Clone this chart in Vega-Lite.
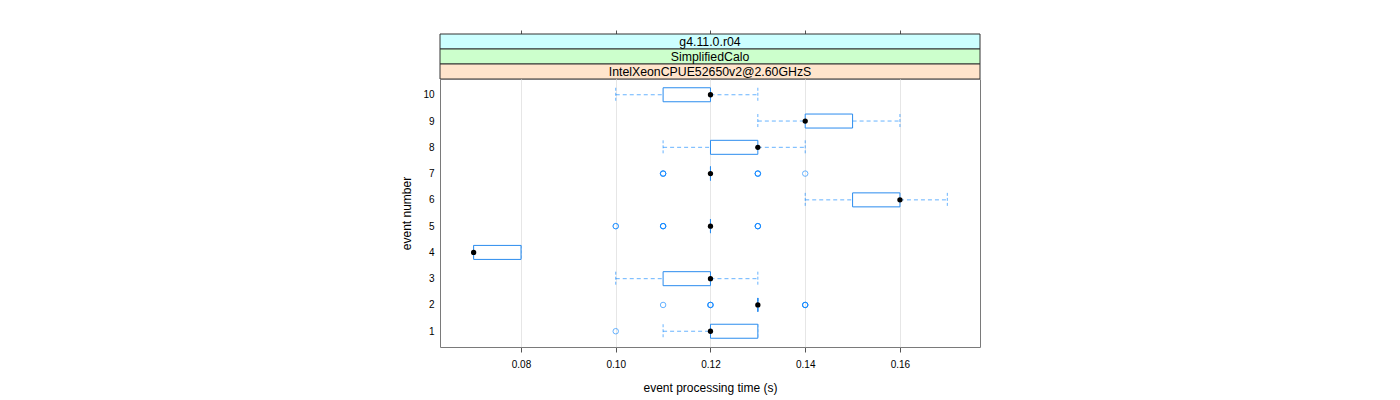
{
  "$schema": "https://vega.github.io/schema/vega-lite/v6.json",
  "padding": {"left": 400, "top": 29, "right": 5, "bottom": 5},
  "background": "white",
  "spacing": 0,
  "bounds": "flush",
  "config": {
    "font": "Liberation Sans",
    "view": {"stroke": null},
    "axis": {"labelColor": "black", "titleColor": "black", "titleFontWeight": "normal", "labelFont": "Liberation Sans", "titleFont": "Liberation Sans", "labelOverlap": false},
    "axisY": {"labelOverlap": false},
    "axisQuantitative": {"labelOverlap": false}
  },
  "datasets": {
    "boxes": [
      {"event": 1, "lo": 0.11, "q1": 0.12, "med": 0.12, "q3": 0.13, "hi": 0.13},
      {"event": 2, "lo": 0.13, "q1": 0.13, "med": 0.13, "q3": 0.13, "hi": 0.13},
      {"event": 3, "lo": 0.10, "q1": 0.11, "med": 0.12, "q3": 0.12, "hi": 0.13},
      {"event": 4, "lo": 0.07, "q1": 0.07, "med": 0.07, "q3": 0.08, "hi": 0.08},
      {"event": 5, "lo": 0.12, "q1": 0.12, "med": 0.12, "q3": 0.12, "hi": 0.12},
      {"event": 6, "lo": 0.14, "q1": 0.15, "med": 0.16, "q3": 0.16, "hi": 0.17},
      {"event": 7, "lo": 0.12, "q1": 0.12, "med": 0.12, "q3": 0.12, "hi": 0.12},
      {"event": 8, "lo": 0.11, "q1": 0.12, "med": 0.13, "q3": 0.13, "hi": 0.14},
      {"event": 9, "lo": 0.13, "q1": 0.14, "med": 0.14, "q3": 0.15, "hi": 0.16},
      {"event": 10, "lo": 0.10, "q1": 0.11, "med": 0.12, "q3": 0.12, "hi": 0.13}
    ],
    "outliers": [
      {"event": 1, "t": 0.10},
      {"event": 2, "t": 0.11},
      {"event": 2, "t": 0.12}, {"event": 2, "t": 0.12}, {"event": 2, "t": 0.12},
      {"event": 2, "t": 0.14}, {"event": 2, "t": 0.14}, {"event": 2, "t": 0.14},
      {"event": 5, "t": 0.10}, {"event": 5, "t": 0.10},
      {"event": 5, "t": 0.11}, {"event": 5, "t": 0.11}, {"event": 5, "t": 0.11},
      {"event": 5, "t": 0.13}, {"event": 5, "t": 0.13}, {"event": 5, "t": 0.13},
      {"event": 7, "t": 0.11}, {"event": 7, "t": 0.11}, {"event": 7, "t": 0.11},
      {"event": 7, "t": 0.13}, {"event": 7, "t": 0.13}, {"event": 7, "t": 0.13},
      {"event": 7, "t": 0.14}
    ],
    "strips": [
      {"label": "g4.11.0.r04"},
      {"label": "SimplifiedCalo"},
      {"label": "IntelXeonCPUE52650v2@2.60GHzS"}
    ]
  },
  "vconcat": [
    {
      "width": 540,
      "height": 45,
      "layer": [
        {
          "data": {"name": "strips"},
          "mark": {"type": "rect", "stroke": "#333333", "strokeWidth": 1},
          "encoding": {
            "y": {"field": "label", "type": "nominal", "sort": ["g4.11.0.r04", "SimplifiedCalo", "IntelXeonCPUE52650v2@2.60GHzS"], "scale": {"paddingInner": 0, "paddingOuter": 0}, "axis": null},
            "fill": {"field": "label", "type": "nominal", "scale": {"domain": ["g4.11.0.r04", "SimplifiedCalo", "IntelXeonCPUE52650v2@2.60GHzS"], "range": ["#ccffff", "#ccffcc", "#ffe5cc"]}, "legend": null}
          }
        },
        {
          "data": {"name": "strips"},
          "mark": {"type": "text", "fontSize": 12.3, "color": "black", "font": "Liberation Sans"},
          "encoding": {
            "y": {"field": "label", "type": "nominal", "sort": ["g4.11.0.r04", "SimplifiedCalo", "IntelXeonCPUE52650v2@2.60GHzS"], "axis": null},
            "text": {"field": "label"}
          }
        },
        {
          "data": {"name": "boxes"},
          "mark": {"type": "point", "opacity": 0},
          "encoding": {
            "x": {"field": "med", "type": "quantitative", "scale": {"domain": [0.0629, 0.1769], "nice": false, "zero": false},
              "axis": {"orient": "top", "labels": false, "title": null, "grid": false, "domain": false, "values": [0.08, 0.10, 0.12, 0.14, 0.16], "tickSize": 4, "tickColor": "#555555"}}
          }
        }
      ]
    },
    {
      "width": 540,
      "height": 268,
      "view": {"stroke": "#7a7a7a", "strokeWidth": 1},
      "encoding": {
        "y": {"field": "event", "type": "quantitative", "title": "event number", "scale": {"domain": [0.4, 10.6], "nice": false, "zero": false, "padding": 0},
          "axis": {"values": [1, 2, 3, 4, 5, 6, 7, 8, 9, 10], "format": "d", "grid": false, "domain": false, "ticks": false, "labelFontSize": 10, "titleFontSize": 12, "labelPadding": 6, "titlePadding": 9, "labelOverlap": false}}
      },
      "layer": [
        {
          "data": {"name": "boxes"},
          "mark": {"type": "rule", "color": "#0080ff", "strokeDash": [4, 3], "opacity": 0.6},
          "encoding": {
            "x": {"field": "lo", "type": "quantitative", "title": "event processing time (s)", "scale": {"domain": [0.0629, 0.1769], "nice": false, "zero": false, "padding": 0},
              "axis": {"values": [0.08, 0.10, 0.12, 0.14, 0.16], "format": ".2f", "grid": true, "gridColor": "#e6e6e6", "domain": false, "tickSize": 5, "tickColor": "#555555", "labelFontSize": 10, "titleFontSize": 12, "labelPadding": 7, "titlePadding": 13, "labelOverlap": false}},
            "x2": {"field": "q1"}
          }
        },
        {
          "data": {"name": "boxes"},
          "mark": {"type": "rule", "color": "#0080ff", "strokeDash": [4, 3], "opacity": 0.6},
          "encoding": {
            "x": {"field": "q3", "type": "quantitative", "title": "event processing time (s)"},
            "x2": {"field": "hi"}
          }
        },
        {
          "data": {"name": "boxes"},
          "mark": {"type": "rule", "color": "#0080ff", "strokeDash": [3, 2], "opacity": 0.6, "yOffset": -7, "y2Offset": 7},
          "encoding": {
            "x": {"field": "lo", "type": "quantitative", "title": "event processing time (s)"},
            "y2": {"field": "event"}
          }
        },
        {
          "data": {"name": "boxes"},
          "mark": {"type": "rule", "color": "#0080ff", "strokeDash": [3, 2], "opacity": 0.6, "yOffset": -7, "y2Offset": 7},
          "encoding": {
            "x": {"field": "hi", "type": "quantitative", "title": "event processing time (s)"},
            "y2": {"field": "event"}
          }
        },
        {
          "data": {"name": "boxes"},
          "mark": {"type": "bar", "orient": "horizontal", "size": 14, "fill": "white", "stroke": "#2b8cee", "strokeWidth": 1},
          "encoding": {
            "x": {"field": "q1", "type": "quantitative", "title": "event processing time (s)"},
            "x2": {"field": "q3"}
          }
        },
        {
          "data": {"name": "outliers"},
          "mark": {"type": "point", "shape": "circle", "filled": false, "stroke": "#0080ff", "strokeWidth": 1, "opacity": 0.6, "size": 30},
          "encoding": {
            "x": {"field": "t", "type": "quantitative", "title": "event processing time (s)"}
          }
        },
        {
          "data": {"name": "boxes"},
          "mark": {"type": "point", "shape": "circle", "filled": true, "color": "black", "opacity": 1, "size": 28},
          "encoding": {
            "x": {"field": "med", "type": "quantitative", "title": "event processing time (s)"}
          }
        }
      ]
    }
  ]
}
